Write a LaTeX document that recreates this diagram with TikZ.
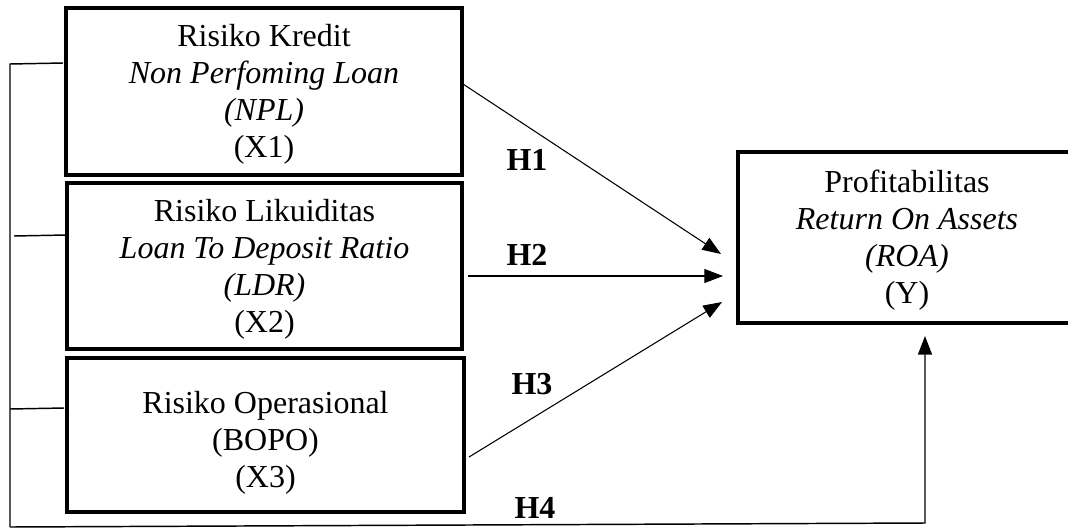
\documentclass[tikz,border=0pt]{standalone}
\usepackage{fontspec}
\setmainfont{Liberation Serif}
\usetikzlibrary{arrows.meta,calc}
\begin{document}
\begin{tikzpicture}[x=0.75pt,y=-0.75pt,
  box/.style={draw,line width=2.3pt,inner sep=0pt},
  txt/.style={align=center,inner sep=0pt,font=\fontsize{24}{27.8}\selectfont},
  arr/.style={line width=0.8pt,-{Triangle[length=14pt,width=10.5pt]}},
  hlab/.style={anchor=base,inner sep=0pt,font=\fontsize{24}{27.8}\selectfont\bfseries},
  brk/.style={line width=1.1pt}]
\clip (0,0) rectangle (1068,529);
\useasboundingbox (0,0) rectangle (1068,529);
% boxes
\node[box,minimum width=297pt,minimum height=125.25pt] (x1) at (264,91.5) {};
\node[box,minimum width=296.25pt,minimum height=124.5pt] (x2) at (264.5,266) {};
\node[box,minimum width=297.75pt,minimum height=115.5pt] (x3) at (265.5,435) {};
\node[box,minimum width=253.5pt,minimum height=128.25pt] (y) at (907,237.5) {};
% texts
\node[txt] (t1) at (264,94) {Risiko Kredit\\\textit{Non Perfoming Loan}\\\textit{(NPL)}\\(X1)};
\node[txt] (t2) at (264.5,269) {Risiko Likuiditas\\\textit{Loan To Deposit Ratio}\\\textit{(LDR)}\\(X2)};
\node[txt] (t3) at (265.5,443) {Risiko Operasional\\(BOPO)\\(X3)};
\node[txt] (ty) at (907,240) {Profitabilitas\\\textit{Return On Assets}\\\textit{(ROA)}\\(Y)};
% arrow end points
\coordinate (h1s) at (463,84);
\coordinate (h1e) at (721,254);
\coordinate (h2s) at (468,276);
\coordinate (h2e) at (723,276);
\coordinate (h3s) at (469,457);
\coordinate (h3e) at (722,302);
\coordinate (h4e) at (925,336);
\draw[arr] (h1s) -- (h1e);
\draw[arr] (h2s) -- (h2e);
\draw[arr] (h3s) -- (h3e);
% bracket
\coordinate (b1) at (10,64);
\coordinate (b1r) at (63,63);
\coordinate (b2) at (14,236);
\coordinate (b2r) at (66,235);
\coordinate (b3) at (10,409);
\coordinate (b3r) at (64,408);
\coordinate (bb) at (10,527);
\coordinate (br) at (925,523);
\draw[brk] (b1r) -- (b1) -- (bb);
\draw[brk] (b2) -- (b2r);
\draw[brk] (b3) -- (b3r);
\draw[arr,line width=1.1pt] (bb) -- (br) -- (h4e);
% labels
\node[hlab] (l1) at (527,170) {H1};
\node[hlab] (l2) at (527,265) {H2};
\node[hlab] (l3) at (532,394) {H3};
\node[hlab] (l4) at (535,518) {H4};
\end{tikzpicture}
\end{document}
